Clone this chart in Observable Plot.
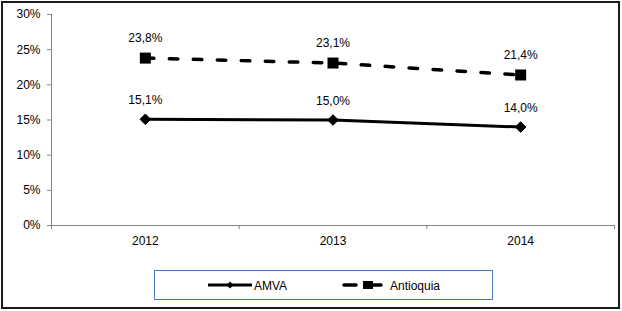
<!DOCTYPE html>
<html><head><meta charset="utf-8">
<script src="https://cdn.jsdelivr.net/npm/d3@7"></script>
<script src="https://cdn.jsdelivr.net/npm/@observablehq/plot@0.6"></script>
<style>
body{margin:0;background:#fff;}
#wrap{position:relative;width:622px;height:311px;font-family:"Liberation Sans",Arial,sans-serif;}
#border{position:absolute;left:1px;top:1px;width:619px;height:308px;border:2px solid #1a1a1a;box-sizing:border-box;pointer-events:none;}
#legend{position:absolute;left:154px;top:270px;width:339px;height:30px;border:1px solid #4a7ebb;box-sizing:border-box;}
#legsvg{position:absolute;left:0;top:0;}
</style>
</head><body>
<div id="wrap"><div id="chart"></div><div id="legend"></div><svg id="legsvg" width="622" height="311"></svg><div id="border"></div></div>
<script>
const years = ["2012", "2013", "2014"];
const amva = [15.1, 15.0, 14.0];
const antioquia = [23.8, 23.1, 21.4];
const yTicks = [0, 5, 10, 15, 20, 25, 30];
const seriesNames = ["AMVA", "Antioquia"];

const amvaData = years.map((yr, i) => ({x: i + 0.5, year: yr, v: amva[i]}));
const antData = years.map((yr, i) => ({x: i + 0.5, year: yr, v: antioquia[i]}));
const fmt = v => v.toFixed(1).replace(".", ",") + "%";

const chart = Plot.plot({
  width: 622, height: 311,
  marginLeft: 51, marginRight: 8, marginTop: 14, marginBottom: 86,
  style: {fontFamily: '"Liberation Sans", Arial, sans-serif', fontSize: "12px", background: "transparent"},
  x: {domain: [0, 3], axis: null},
  y: {domain: [0, 30], axis: null},
  marks: [
    Plot.ruleY([0], {stroke: "#868686"}),
    Plot.ruleX([0], {stroke: "#868686"}),
    Plot.axisY(yTicks, {label: null, tickSize: 4, tickPadding: 7, tickFormat: d => d + "%", stroke: "#868686", fill: "#000", fontSize: 12}),
    Plot.axisX([0, 1, 2, 3], {label: null, tickSize: 4, tickFormat: () => "", stroke: "#868686"}),
    Plot.axisX(years.map((d, i) => i + 0.5), {label: null, tickSize: 0, tickPadding: 11, tickFormat: v => years[Math.floor(v)], fill: "#000", fontSize: 12}),
    Plot.line(antData, {x: "x", y: "v", stroke: "#000", strokeWidth: 3.5, strokeDasharray: "8.5,15.5", strokeLinecap: "round"}),
    Plot.line(amvaData, {x: "x", y: "v", stroke: "#000", strokeWidth: 3}),
    Plot.dot(antData, {x: "x", y: "v", symbol: "square", r: 6.2, fill: "#000", stroke: "none"}),
    Plot.dot(amvaData, {x: "x", y: "v", symbol: "diamond2", r: 4.8, fill: "#000", stroke: "#000", strokeWidth: 1}),
    Plot.text(antData, {x: "x", y: "v", text: d => fmt(d.v), dy: -20, fill: "#000", fontSize: 12}),
    Plot.text(amvaData, {x: "x", y: "v", text: d => fmt(d.v), dy: -19, fill: "#000", fontSize: 12})
  ]
});
document.getElementById("chart").appendChild(chart);

// legend
const lg = d3.select("#legsvg");
lg.append("line").attr("x1", 208).attr("x2", 252).attr("y1", 285).attr("y2", 285).attr("stroke", "#000").attr("stroke-width", 3);
lg.append("path").attr("d", "M230,281.5L233.5,285L230,288.5L226.5,285Z").attr("fill", "#000");
lg.append("text").attr("x", 254).attr("y", 289.5).attr("font-size", 12).attr("font-family", '"Liberation Sans", Arial, sans-serif').text(seriesNames[0]);
lg.append("line").attr("x1", 344).attr("x2", 356).attr("y1", 285).attr("y2", 285).attr("stroke", "#000").attr("stroke-width", 3.5).attr("stroke-linecap", "round");
lg.append("rect").attr("x", 363).attr("y", 281).attr("width", 10).attr("height", 8).attr("fill", "#000");
lg.append("line").attr("x1", 373).attr("x2", 381).attr("y1", 285).attr("y2", 285).attr("stroke", "#000").attr("stroke-width", 3.5).attr("stroke-linecap", "round");
lg.append("text").attr("x", 390).attr("y", 289.5).attr("font-size", 12).attr("font-family", '"Liberation Sans", Arial, sans-serif').text(seriesNames[1]);
</script>
</body></html>
